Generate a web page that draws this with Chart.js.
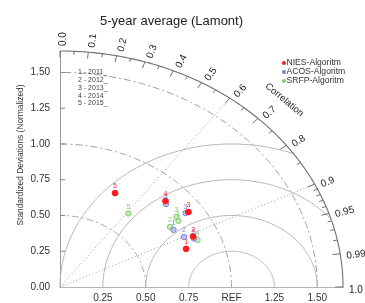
<!DOCTYPE html>
<html><head><meta charset="utf-8">
<script src="https://cdn.jsdelivr.net/npm/chart.js@4"></script>
<style>html,body{margin:0;padding:0;background:#fff;}#wrap{width:365px;height:303px;}</style>
</head><body><div id="wrap"><canvas id="c" width="365" height="303"></canvas></div>
<script>
// ---- data ----
const yearNumbers = ['1','2','3','4','5'];
const yearLegend = ['1 - 2011_','2 - 2012_','3 - 2013_','4 - 2014','5 - 2015_'];
const seriesNames = ['NIES-Algoritm','ACOS-Algoritm','SRFP-Algoritm'];
// normalized standard deviation and correlation per year (2011..2015)
const niesStd  = [0.782,0.853,0.914,0.860,0.731];
const niesCorr = [0.940,0.910,0.819,0.715,0.439];
const acosStd  = [0.773,0.803,0.896,0.848,0.851];
const acosCorr = [0.856,0.900,0.817,0.729,0.917];
const srfpStd  = [0.831,0.766,0.837,0.867,0.651];
const srfpCorr = [0.831,0.837,0.811,0.925,0.613];
const xTickValues = [0.25,0.5,0.75,1.0,1.25,1.5];
const xTickLabels = ['0.25','0.50','0.75','REF','1.25','1.50'];
const yTickValues = [0,0.25,0.5,0.75,1.0,1.25,1.5];
const yTickLabels = ['0.00','0.25','0.50','0.75','1.00','1.25','1.50'];
const corrLabelValues = [0.0,0.1,0.2,0.3,0.4,0.5,0.6,0.7,0.8,0.9,0.95,0.99,1.0];
const corrLabelTexts  = ['0.0','0.1','0.2','0.3','0.4','0.5','0.6','0.7','0.8','0.9','0.95','0.99','1.0'];
const corrMinorValues = [0.05,0.15,0.25,0.35,0.45,0.55,0.65,0.75,0.85,0.91,0.92,0.93,0.94,0.96,0.97,0.98];
const stdArcs = [0.5,1.0,1.5];
const rmsArcs = [0.25,0.5,0.75,1.0];
const corrRays = [0.6,0.9];
const maxStd = 1.65;

const FONT = "'Liberation Sans', Arial, Helvetica, sans-serif";
const colors = ['#ff1a1a','#7f7fe0','#86cc6e'];
const fills  = ['#ff1a1a','rgba(150,150,235,0.55)','rgba(150,215,130,0.55)'];

function toPoints(stds, corrs){
  return stds.map((s,i)=>({x: s*corrs[i], y: s*Math.sqrt(1-corrs[i]*corrs[i])}));
}

const taylorPlugin = {
  id: 'taylor',
  beforeDatasetsDraw(chart){
    const {ctx, scales:{x:xs, y:ys}} = chart;
    const px = v => xs.getPixelForValue(v), py = v => ys.getPixelForValue(v);
    const poly = pts => { ctx.beginPath(); pts.forEach((p,i)=>{ const X=px(p[0]),Y=py(p[1]); i?ctx.lineTo(X,Y):ctx.moveTo(X,Y);}); ctx.stroke(); };
    const N = 200;
    ctx.save();
    ctx.lineWidth = 1;
    // std arcs (dash-dot)
    ctx.strokeStyle = '#9a9a9a'; ctx.setLineDash([7,3,2,3]);
    stdArcs.forEach(r=>{ const pts=[]; for(let i=0;i<=N;i++){const t=Math.PI/2*i/N; pts.push([r*Math.cos(t), r*Math.sin(t)]);} poly(pts); });
    // centered RMS arcs around REF
    ctx.setLineDash([]); ctx.strokeStyle = '#b3b3b3';
    rmsArcs.forEach(r=>{
      let t0 = 0;
      if (1 + r > maxStd) { const xi = (maxStd*maxStd - r*r + 1)/2; t0 = Math.acos((xi-1)/r); }
      const pts=[]; for(let i=0;i<=N;i++){ const t=t0+(Math.PI-t0)*i/N; pts.push([1+r*Math.cos(t), r*Math.sin(t)]); }
      poly(pts);
    });
    // correlation rays (dotted)
    ctx.strokeStyle = '#999'; ctx.setLineDash([1,2.5]);
    corrRays.forEach(c=>{ const s=Math.sqrt(1-c*c); poly([[0,0],[maxStd*c, maxStd*s]]); });
    // outer arc
    ctx.setLineDash([]); ctx.strokeStyle = '#707070'; ctx.lineWidth = 1.1;
    { const pts=[]; for(let i=0;i<=N;i++){const t=Math.PI/2*i/N; pts.push([maxStd*Math.cos(t), maxStd*Math.sin(t)]);} poly(pts); }
    // correlation ticks (inward)
    ctx.lineWidth = 1;
    corrLabelValues.forEach(c=>{ const s=Math.sqrt(1-c*c); poly([[maxStd*c,maxStd*s],[(maxStd-0.045)*c,(maxStd-0.045)*s]]); });
    corrMinorValues.forEach(c=>{ const s=Math.sqrt(1-c*c); poly([[maxStd*c,maxStd*s],[(maxStd-0.025)*c,(maxStd-0.025)*s]]); });
    // y-axis inward ticks
    ctx.strokeStyle = '#888';
    yTickValues.slice(1).forEach(v=> poly([[0,v],[0.03,v]]));
    ctx.restore();
  },
  afterDatasetsDraw(chart){
    const ctx = chart.ctx;
    ctx.save();
    ctx.font = '7px ' + FONT; ctx.textAlign='center'; ctx.textBaseline='middle';
    for (let d = chart.data.datasets.length-1; d>=0; d--){
      const meta = chart.getDatasetMeta(d);
      ctx.fillStyle = colors[d];
      meta.data.forEach((el,i)=> ctx.fillText(yearNumbers[i], el.x, el.y-6.5));
    }
    ctx.restore();
  },
  afterDraw(chart){
    const {ctx, scales:{x:xs, y:ys}} = chart;
    const px = v => xs.getPixelForValue(v), py = v => ys.getPixelForValue(v);
    const ox = px(0), oy = py(0);
    ctx.save();
    ctx.fillStyle = '#222';
    // correlation labels
    ctx.font = '10px ' + FONT; ctx.textAlign='left'; ctx.textBaseline='middle';
    corrLabelValues.forEach((c,i)=>{
      const s = Math.sqrt(1-c*c), r = 1.685;
      const X = px(r*c), Y = py(r*s);
      const ang = Math.atan2(oy-Y, X-ox);
      ctx.save(); ctx.translate(X,Y); ctx.rotate(-ang); ctx.fillText(corrLabelTexts[i], 0, 3); ctx.restore();
    });
    // "Correlation"
    { const th=Math.PI/4, r=1.85; const X=px(r*Math.cos(th)), Y=py(r*Math.sin(th));
      const sx=px(1)-px(0), sy=py(0)-py(1);
      ctx.save(); ctx.translate(X,Y); ctx.rotate(Math.atan2(Math.cos(th)*sy, Math.sin(th)*sx));
      ctx.font='9.5px '+FONT; ctx.textAlign='center'; ctx.fillText('Correlation',0,0); ctx.restore(); }
    // y-axis title
    ctx.save(); ctx.translate(20.5,155); ctx.rotate(-Math.PI/2);
    ctx.font='8.4px '+FONT; ctx.textAlign='center'; ctx.fillStyle='#333';
    ctx.fillText('Standardized Deviations (Normalized)',0,0); ctx.restore();
    // series legend
    ctx.font='8.6px '+FONT; ctx.textAlign='left';
    seriesNames.forEach((n,i)=>{
      const y = 63 + i*9;
      ctx.fillStyle = colors[i]; ctx.beginPath(); ctx.arc(284,y,2,0,Math.PI*2); ctx.fill();
      ctx.fillStyle = '#333'; ctx.fillText(n, 286.5, y);
    });
    // year legend
    ctx.font='7px '+FONT; ctx.fillStyle='#444';
    yearLegend.forEach((t,i)=> ctx.fillText(t, 78, 72.5 + i*7.7));
    ctx.restore();
  }
};

new Chart(document.getElementById('c'), {
  type: 'scatter',
  data: {
    datasets: [
      {label: seriesNames[0], data: toPoints(niesStd, niesCorr), pointRadius: 2.9, backgroundColor: fills[0], borderColor: colors[0], borderWidth: 1, pointStyle: 'circle'},
      {label: seriesNames[1], data: toPoints(acosStd, acosCorr), pointRadius: 2.7, backgroundColor: fills[1], borderColor: colors[1], borderWidth: 1, pointStyle: 'circle'},
      {label: seriesNames[2], data: toPoints(srfpStd, srfpCorr), pointRadius: 2.7, backgroundColor: fills[2], borderColor: colors[2], borderWidth: 1, pointStyle: 'circle'}
    ]
  },
  options: {
    responsive: false, animation: false, devicePixelRatio: 1,
    layout: {padding: {left: 0, right: 22, top: 0, bottom: 0}},
    plugins: {
      legend: {display: false}, tooltip: {enabled: false},
      title: {display: true, text: '5-year average (Lamont)', color: '#222',
        font: {family: FONT, size: 13, weight: 'normal', lineHeight: 1.2}, padding: {top: 14, bottom: 21.4}}
    },
    scales: {
      x: {
        type: 'linear', min: 0, max: maxStd,
        afterBuildTicks: s => { s.ticks = xTickValues.map(v=>({value: v})); },
        afterFit: s => { s.height = 16; },
        ticks: {callback: (v) => { const i = xTickValues.indexOf(v); return i>=0 ? xTickLabels[i] : ''; },
          font: {family: FONT, size: 10}, color: '#333', padding: 5, maxRotation: 0, autoSkip: false},
        grid: {display: false, drawTicks: false},
        border: {display: true, color: '#b5b5b5', width: 1}
      },
      y: {
        type: 'linear', min: 0, max: maxStd,
        afterBuildTicks: s => { s.ticks = yTickValues.map(v=>({value: v})); },
        afterFit: s => { s.width = 60; },
        ticks: {callback: (v) => { const i = yTickValues.indexOf(v); return i>=0 ? yTickLabels[i] : ''; },
          font: {family: FONT, size: 10}, color: '#333', padding: 10, autoSkip: false},
        grid: {display: false, drawTicks: false},
        border: {display: true, color: '#999', width: 1}
      }
    }
  },
  plugins: [taylorPlugin]
});
</script></body></html>
